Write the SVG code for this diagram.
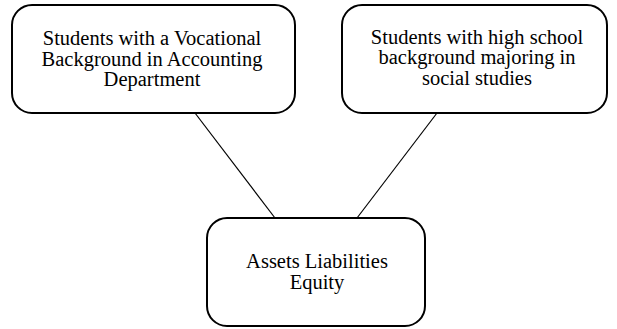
<svg xmlns="http://www.w3.org/2000/svg" width="617" height="329" viewBox="0 0 617 329">
  <style>
    .box { fill: #ffffff; stroke: #000000; stroke-width: 2; }
    .label { font-family: "Liberation Serif", "Times New Roman", serif; font-size: 20.5px; fill: #000000; text-anchor: middle; }
    .link { stroke: #000000; stroke-width: 1.2; fill: none; }
  </style>
  <rect width="617" height="329" fill="#ffffff"/>

  <!-- connectors -->
  <g id="connectors">
    <line class="link" x1="195" y1="113" x2="275" y2="218"/>
    <line class="link" x1="437" y1="113" x2="357" y2="218"/>
  </g>

  <!-- source groups -->
  <g id="node-vocational">
    <rect class="box" x="12" y="5" width="283" height="108" rx="20" ry="20"/>
    <text class="label" x="152" y="45">Students with a Vocational</text>
    <text class="label" x="152" y="65.5">Background in Accounting</text>
    <text class="label" x="152" y="86">Department</text>
  </g>

  <g id="node-highschool">
    <rect class="box" x="342" y="5" width="265" height="108" rx="20" ry="20"/>
    <text class="label" x="477" y="43.5">Students with high school</text>
    <text class="label" x="477" y="64">background majoring in</text>
    <text class="label" x="477" y="84.5">social studies</text>
  </g>

  <!-- shared topic -->
  <g id="node-equation">
    <rect class="box" x="207" y="218" width="218" height="108" rx="20" ry="20"/>
    <text class="label" x="317" y="268">Assets Liabilities</text>
    <text class="label" x="317" y="288.5">Equity</text>
  </g>
</svg>
